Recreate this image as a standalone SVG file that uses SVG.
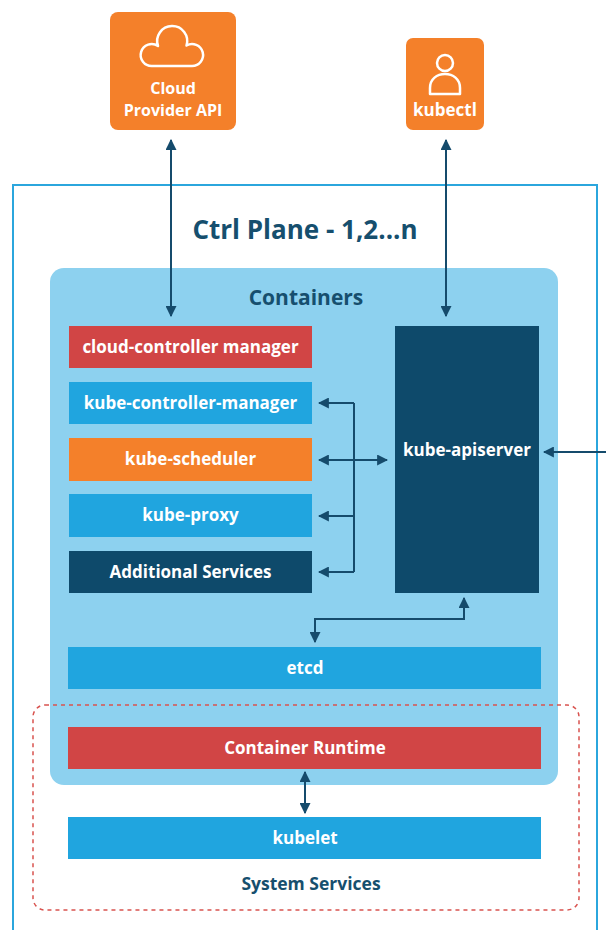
<svg xmlns="http://www.w3.org/2000/svg" width="606" height="930" viewBox="0 0 606 930">
<defs>
<style>
.t{font-family:"Open Sans","Liberation Sans",sans-serif;font-weight:700;text-anchor:middle}
.w{fill:#ffffff;font-size:17px}
.d{fill:#164F6E}
.c{stroke:#154B6C;stroke-width:2;fill:none}
.or{fill:#F4802A}
.rd{fill:#D14545}
.bl{fill:#20A5DF}
.dk{fill:#0E4A6B}
.ic{fill:none;stroke:#ffffff;stroke-width:2.5;stroke-linejoin:round}
</style>
<marker id="ah" viewBox="0 0 10 10" refX="9" refY="5" markerWidth="5.5" markerHeight="5.5" orient="auto-start-reverse" markerUnits="strokeWidth">
<path d="M0,0 L10,5 L0,10 z" fill="#154B6C"/>
</marker>
</defs>
<rect width="606" height="930" fill="#ffffff"/>

<g id="ctrl-plane">
<rect x="13" y="185" width="584" height="760" fill="none" stroke="#2BA6DD" stroke-width="2"/>
<text class="t d" x="305" y="239" font-size="26">Ctrl Plane - 1,2...n</text>
</g>

<g id="containers">
<rect x="50" y="268" width="508" height="517" rx="14" fill="#8DD1EF"/>
<text class="t d" x="306" y="305" font-size="21">Containers</text>
</g>

<g id="system-services">
<rect x="33" y="705" width="546" height="205" rx="12" fill="none" stroke="#D9534F" stroke-width="1.5" stroke-dasharray="4 4"/>
<text class="t d" x="311" y="890" font-size="17.5">System Services</text>
</g>

<g id="cloud-provider">
<rect x="110" y="12" width="126" height="118" rx="8" class="or"/>
<path class="ic" d="M152,66 A11,11 0 1 1 158,46 A15,15 0 1 1 186.5,45.5 A11,11 0 1 1 192,66 Z"/>
<text class="t" fill="#fff" font-size="16" x="173" y="94">Cloud</text>
<text class="t" fill="#fff" font-size="16" x="173" y="116">Provider API</text>
</g>

<g id="kubectl">
<rect x="406" y="38" width="78" height="92" rx="7" class="or"/>
<circle class="ic" cx="445" cy="63" r="8"/>
<path class="ic" d="M430,94 L430,88 C430,79 437,74 445,74 C453,74 460,79 460,88 L460,94 Z"/>
<text class="t" fill="#fff" font-size="17" x="445" y="116">kubectl</text>
</g>

<g id="cloud-controller-manager">
<rect x="69" y="326" width="243" height="42" class="rd"/>
<text class="t w" x="190.5" y="353">cloud-controller manager</text>
</g>
<g id="kube-controller-manager">
<rect x="69" y="382" width="243" height="42" class="bl"/>
<text class="t w" x="190.5" y="409">kube-controller-manager</text>
</g>
<g id="kube-scheduler">
<rect x="69" y="438" width="243" height="43" class="or"/>
<text class="t w" x="190.5" y="465">kube-scheduler</text>
</g>
<g id="kube-proxy">
<rect x="69" y="494" width="243" height="43" class="bl"/>
<text class="t w" x="190.5" y="521">kube-proxy</text>
</g>
<g id="additional-services">
<rect x="69" y="551" width="243" height="42" class="dk"/>
<text class="t w" x="190.5" y="578">Additional Services</text>
</g>
<g id="kube-apiserver">
<rect x="395" y="326" width="144" height="267" class="dk"/>
<text class="t w" x="467" y="456">kube-apiserver</text>
</g>
<g id="etcd">
<rect x="68" y="647" width="473" height="42" class="bl"/>
<text class="t w" x="305" y="674">etcd</text>
</g>
<g id="container-runtime">
<rect x="68" y="727" width="473" height="42" class="rd"/>
<text class="t w" x="305" y="754">Container Runtime</text>
</g>
<g id="kubelet">
<rect x="68" y="817" width="473" height="42" class="bl"/>
<text class="t w" x="305" y="844">kubelet</text>
</g>

<g id="connectors">
<line class="c" x1="171" y1="140" x2="171" y2="316" marker-start="url(#ah)" marker-end="url(#ah)"/>
<line class="c" x1="446" y1="140" x2="446" y2="316" marker-start="url(#ah)" marker-end="url(#ah)"/>
<path class="c" d="M354,403 V572"/>
<line class="c" x1="354" y1="403" x2="319" y2="403" marker-end="url(#ah)"/>
<line class="c" x1="319" y1="460" x2="387" y2="460" marker-start="url(#ah)" marker-end="url(#ah)"/>
<line class="c" x1="354" y1="516" x2="319" y2="516" marker-end="url(#ah)"/>
<line class="c" x1="354" y1="572" x2="319" y2="572" marker-end="url(#ah)"/>
<line class="c" x1="606" y1="452" x2="544" y2="452" marker-end="url(#ah)"/>
<path class="c" d="M464,598 V619 H315 V642" marker-start="url(#ah)" marker-end="url(#ah)"/>
<line class="c" x1="305" y1="772" x2="305" y2="813" marker-start="url(#ah)" marker-end="url(#ah)"/>
</g>
</svg>
